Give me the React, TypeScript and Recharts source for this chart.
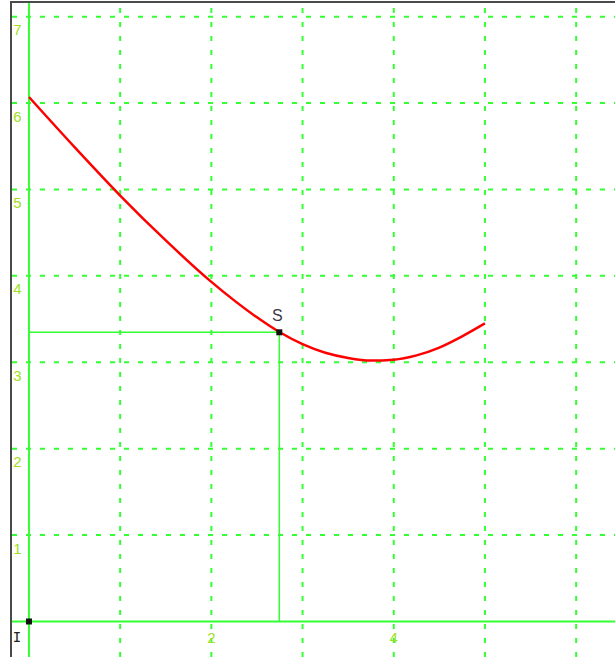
import React from 'react';
import { ComposedChart, Line, Scatter, XAxis, YAxis, ReferenceLine } from 'recharts';

// curve values
const xValues = [0, 0.5, 1, 1.5, 2, 2.5, 2.75, 3, 3.25, 3.5, 3.75, 4, 4.25, 4.5, 4.75, 5];
const yValues = [6.07, 5.49, 4.93, 4.41, 3.93, 3.52, 3.347, 3.21, 3.11, 3.05, 3.02, 3.03, 3.08, 3.17, 3.3, 3.45];

const pointNames = ['I', 'S'];
const pointX = [0, 2.745];
const pointY = [0, 3.347];

const gridX = [1, 2, 3, 4, 5, 6];
const gridY = [1, 2, 3, 4, 5, 6, 7];
const xTicks = [2, 4];
const yTicks = [1, 2, 3, 4, 5, 6, 7];

const curve = xValues.map((x, i) => ({ x, y: yValues[i] }));
const points = pointNames.map((name, i) => ({ name, x: pointX[i], y: pointY[i] }));

const GREEN = '#33ff33';
const LABEL = '#a0e020';

const PointMark = (props: any) => {
  const { cx, cy, payload } = props;
  const isOrigin = payload.name === 'I';
  return (
    <g>
      <rect x={cx - 3} y={cy - 3} width={6} height={6} fill="#111" />
      {isOrigin ? (
        <text x={cx - 12} y={cy + 16} textAnchor="middle" dominantBaseline="central"
          fontFamily="DejaVu Sans Mono" fontSize={14} fill="#222">{payload.name}</text>
      ) : (
        <text x={cx - 2} y={cy - 17} textAnchor="middle" dominantBaseline="central"
          fontFamily="Liberation Sans" fontSize={16} fill="#3a3a4a">{payload.name}</text>
      )}
    </g>
  );
};

const YTick = (props: any) => (
  <text x={5.5} y={props.y + 13} textAnchor="middle" dominantBaseline="central"
    fontFamily="Liberation Sans" fontSize={15} fill={LABEL}>{props.payload.value}</text>
);

const XTick = (props: any) => (
  <text x={props.x} y={634} textAnchor="middle" dominantBaseline="central"
    fontFamily="Liberation Sans" fontSize={15} fill={LABEL}>{props.payload.value}</text>
);

export default function App() {
  return (
    <div style={{ position: 'absolute', left: 0, top: 0, width: 615, height: 657, overflow: 'hidden', background: '#fff' }}>
      <div style={{ position: 'absolute', left: 10, top: 1, width: 605, height: 656, borderLeft: '2px solid #4a4a4a', borderTop: '2px solid #4a4a4a' }} />
      <div style={{ position: 'absolute', left: 12, top: 3 }}>
        <ComposedChart width={603} height={654} margin={{ top: 0, right: 0, bottom: 0, left: 0 }}>
          <XAxis type="number" dataKey="x" domain={[-0.186, 6.426]} ticks={xTicks} mirror
            axisLine={false} tickLine={false} tick={<XTick />} allowDataOverflow />
          <YAxis type="number" dataKey="y" domain={[-0.411, 7.158]} ticks={yTicks} mirror
            axisLine={false} tickLine={false} tick={<YTick />} allowDataOverflow />

          {gridY.map((v) => (
            <ReferenceLine key={`gy-${v}`} y={v} stroke={GREEN} strokeWidth={2} strokeDasharray="5 9" />
          ))}
          {gridX.map((v) => (
            <ReferenceLine key={`gx-${v}`} x={v} stroke={GREEN} strokeWidth={2} strokeDasharray="5 9" />
          ))}
          <ReferenceLine y={0} stroke={GREEN} strokeWidth={2} />
          <ReferenceLine x={0} stroke={GREEN} strokeWidth={2} />

          {/* guide lines to S */}
          <ReferenceLine segment={[{ x: 0, y: pointY[1] }, { x: pointX[1], y: pointY[1] }]} stroke={GREEN} strokeWidth={1.5} />
          <ReferenceLine segment={[{ x: pointX[1], y: 0 }, { x: pointX[1], y: pointY[1] }]} stroke={GREEN} strokeWidth={1.5} />

          <Line data={curve} dataKey="y" type="monotone" stroke="#ff0000" strokeWidth={2.5}
            dot={false} isAnimationActive={false} />
          <Scatter data={points} dataKey="y" shape={<PointMark />} isAnimationActive={false} />
        </ComposedChart>
      </div>
    </div>
  );
}
